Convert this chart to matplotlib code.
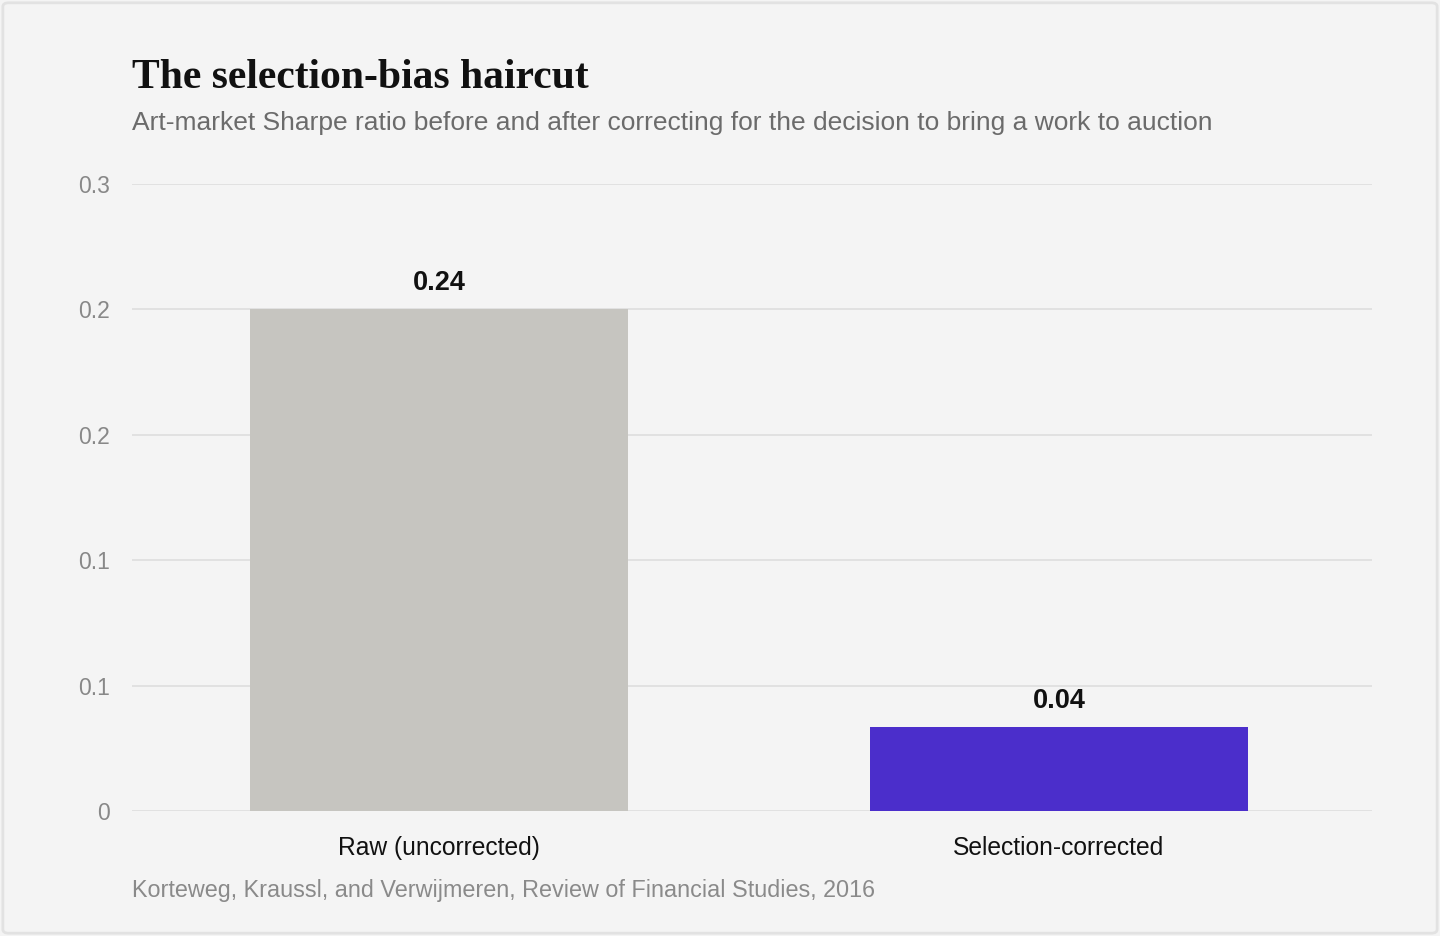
import matplotlib
matplotlib.use("Agg")
import matplotlib.pyplot as plt
from matplotlib.patches import FancyBboxPatch

categories = ["Raw (uncorrected)", "Selection-corrected"]
sharpe = [0.24, 0.04]
bar_colors = ["#c6c5c0", "#4b2ecb"]
yticks = [0, 0.06, 0.12, 0.18, 0.24, 0.30]

plt.rcParams['font.family'] = ['Liberation Sans', 'DejaVu Sans']

fig = plt.figure(figsize=(14.4, 9.36), dpi=100)
fig.patch.set_facecolor("#f4f4f4")

# light frame round the card
frame = FancyBboxPatch((0.002, 0.003), 0.996, 0.994, boxstyle="round,pad=0,rounding_size=0.004",
                       transform=fig.transFigure, facecolor="none", edgecolor="#e2e2e2", linewidth=2)
fig.patches.append(frame)

ax = fig.add_axes([132/1440, 1 - 811/936, 1240/1440, (811-184)/936])
ax.set_facecolor("#f4f4f4")

x = range(len(categories))
bars = ax.bar(x, sharpe, width=0.61, color=bar_colors, zorder=3)
for b, v in zip(bars, sharpe):
    ax.annotate(f"{v:.2f}", (b.get_x() + b.get_width()/2, v), xytext=(0, 10), textcoords="offset points",
                ha="center", va="bottom", fontsize=19.5, fontweight="bold", color="#111111")

ax.set_xlim(-0.495, 1.505)
ax.set_ylim(0, 0.30)
ax.set_yticks(yticks)
ax.set_yticklabels([f"{t:.1f}" if t > 0 else "0" for t in yticks])
ax.set_xticks(list(x))
ax.set_xticklabels(categories)
ax.grid(axis="y", color="#e0e0e0", linewidth=1.3, zorder=0)
for s in ax.spines.values():
    s.set_visible(False)
ax.tick_params(axis="y", length=0, pad=16, labelsize=16.5, labelcolor="#888888")
ax.tick_params(axis="x", length=0, pad=18, labelsize=17.7, labelcolor="#111111")

fig.text(132/1440, 1 - 88/936, "The selection-bias haircut", fontsize=30, fontweight="bold",
         family=["Liberation Serif", "DejaVu Serif"], color="#111111", va="baseline")
fig.text(132/1440, 1 - 123/936, "Art-market Sharpe ratio before and after correcting for the decision to bring a work to auction",
         fontsize=19, color="#6b6b6b", va="center")
fig.text(132/1440, 1 - 891/936, "Korteweg, Kraussl, and Verwijmeren, Review of Financial Studies, 2016",
         fontsize=16.8, color="#8a8a8a", va="center")

fig.savefig("out.png", dpi=100, facecolor=fig.get_facecolor())
